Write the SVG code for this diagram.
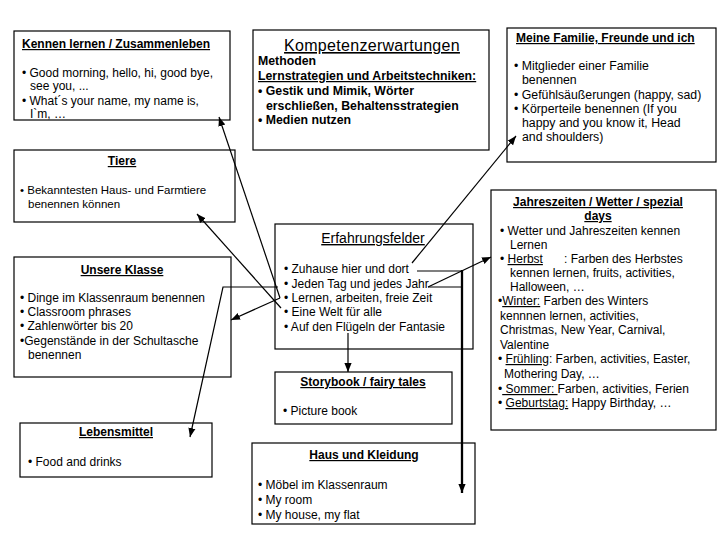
<svg xmlns="http://www.w3.org/2000/svg" width="720" height="540" viewBox="0 0 720 540">
<defs>
<style>
.box{fill:#fff;stroke:#000;stroke-width:1.2}
text{font-family:"Liberation Sans",Arial,sans-serif;font-size:12px;fill:#000}
.h{font-weight:bold;text-decoration:underline}
.c{text-anchor:middle}
.b{font-weight:bold;font-size:12.3px}
.u{text-decoration:underline}
.big{font-size:16px;text-decoration:underline;letter-spacing:0.3px}
.mid{font-size:14px;text-decoration:underline}
.s{font-size:11.5px}
.m{font-size:12.3px}
.ln{fill:none;stroke:#000;stroke-width:1.2}
.thick{fill:none;stroke:#000;stroke-width:2.3}
</style>
<marker id="ah" markerUnits="userSpaceOnUse" markerWidth="9" markerHeight="9" viewBox="0 0 10 10" refX="10" refY="5" orient="auto">
<path d="M0,1 L10,5 L0,9 z" fill="#000"/>
</marker>
</defs>
<rect width="720" height="540" fill="#fff"/>

<g id="kennen">
<rect class="box" x="14" y="31" width="216" height="89"/>
<text class="h" x="22" y="48">Kennen lernen / Zusammenleben</text>
<text x="22" y="77">• Good morning, hello, hi, good bye,</text>
<text x="30" y="90">see you, ...</text>
<text x="22" y="105">• What´s your name, my name is,</text>
<text x="30" y="118">I`m, …</text>
</g>

<g id="kompetenz">
<rect class="box" x="253" y="30" width="236" height="120"/>
<text class="big c" x="372" y="51">Kompetenzerwartungen</text>
<text class="b" x="258" y="65">Methoden</text>
<text class="b u" x="258" y="80">Lernstrategien und Arbeitstechniken:</text>
<text class="b" x="258" y="95">• Gestik und Mimik, Wörter</text>
<text class="b" x="266" y="110">erschließen, Behaltensstrategien</text>
<text class="b" x="258" y="124">• Medien nutzen</text>
</g>

<g id="familie">
<rect class="box" x="507" y="28" width="209" height="134"/>
<text class="h" x="516" y="42">Meine Familie, Freunde und ich</text>
<text class="m" x="514" y="70">• Mitglieder einer Familie</text>
<text class="m" x="522" y="84">benennen</text>
<text class="m" x="514" y="99">• Gefühlsäußerungen (happy, sad)</text>
<text class="m" x="514" y="113">• Körperteile benennen (If you</text>
<text class="m" x="522" y="127">happy and you know it, Head</text>
<text class="m" x="522" y="141">and shoulders)</text>
</g>

<g id="tiere">
<rect class="box" x="14" y="150" width="221" height="72"/>
<text class="h c" x="122" y="165">Tiere</text>
<text class="s" x="20" y="194">• Bekanntesten Haus- und Farmtiere</text>
<text class="s" x="28" y="208">benennen können</text>
</g>

<g id="erfahrungsfelder">
<rect class="box" x="275" y="224" width="198" height="125"/>
<text class="mid c" x="373" y="243">Erfahrungsfelder</text>
<text x="284" y="273">• Zuhause hier und dort</text>
<text x="284" y="288">• Jeden Tag und jedes Jahr</text>
<text x="284" y="302">• Lernen, arbeiten, freie Zeit</text>
<text x="284" y="316">• Eine Welt für alle</text>
<text x="284" y="331">• Auf den Flügeln der Fantasie</text>
</g>

<g id="klasse">
<rect class="box" x="14" y="257" width="217" height="120"/>
<text class="h c" x="122" y="274">Unsere Klasse</text>
<text x="20" y="302">• Dinge im Klassenraum benennen</text>
<text x="20" y="316">• Classroom phrases</text>
<text x="20" y="330">•  Zahlenwörter bis 20</text>
<text x="20" y="345">•Gegenstände in der Schultasche</text>
<text x="28" y="359">benennen</text>
</g>

<g id="jahreszeiten">
<rect class="box" x="491" y="190" width="225" height="240"/>
<text class="h c" x="598" y="206">Jahreszeiten / Wetter / spezial</text>
<text class="h c" x="598" y="220">days</text>
<text x="500" y="235">•  Wetter und Jahreszeiten kennen</text>
<text x="510" y="249">Lernen</text>
<text x="500" y="263">•  <tspan class="u">Herbst</tspan><tspan x="564">: Farben des Herbstes</tspan></text>
<text x="510" y="277">kennen lernen, fruits, activities,</text>
<text x="510" y="291">Halloween, …</text>
<text x="498" y="305">•<tspan class="u">Winter:</tspan>  Farben des Winters</text>
<text x="500" y="320">kennnen lernen, activities,</text>
<text x="500" y="334">Christmas, New Year, Carnival,</text>
<text x="500" y="349">Valentine</text>
<text x="498" y="363">• <tspan class="u">Frühling</tspan>: Farben, activities, Easter,</text>
<text x="504" y="378">Mothering Day, …</text>
<text x="498" y="393">•<tspan class="u"> Sommer: </tspan>Farben, activities, Ferien</text>
<text x="498" y="407">• <tspan class="u">Geburtstag:</tspan> Happy Birthday, …</text>
</g>

<g id="storybook">
<rect class="box" x="275" y="372" width="177" height="52"/>
<text class="h c" x="363" y="386">Storybook / fairy tales</text>
<text x="283" y="415">• Picture book</text>
</g>

<g id="lebensmittel">
<rect class="box" x="20" y="423" width="192" height="54"/>
<text class="h c" x="116" y="436">Lebensmittel</text>
<text x="28" y="466">• Food and drinks</text>
</g>

<g id="haus">
<rect class="box" x="252" y="443" width="223" height="81"/>
<text class="h c" x="364" y="459">Haus und Kleidung</text>
<text x="258" y="489">• Möbel im Klassenraum</text>
<text x="258" y="504">• My room</text>
<text x="258" y="519">• My house, my flat</text>
</g>

<g id="connectors">
<path class="ln" d="M280,298 L219,117" marker-end="url(#ah)"/>
<path class="ln" d="M280,298 L231,320" marker-end="url(#ah)"/>
<path class="ln" d="M281,308 L197,214" marker-end="url(#ah)"/>
<path class="ln" d="M278,287 L223,287 L190,437" marker-end="url(#ah)"/>
<path class="ln" d="M412,263 L516,136" marker-end="url(#ah)"/>
<path class="ln" d="M348,333 L348,372" marker-end="url(#ah)"/>
<path class="ln" d="M428,287 L491,257" marker-end="url(#ah)"/>
<path class="ln" d="M417,271 L462,271"/>
<path class="ln" d="M428,287 L462,287"/>
<path class="thick" d="M462,270 L462,493" marker-end="url(#ah)"/>
</g>
</svg>
